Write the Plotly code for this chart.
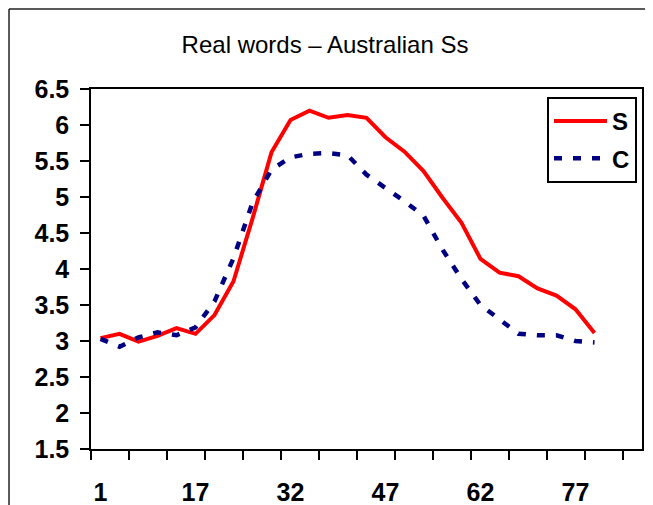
import plotly.graph_objects as go

# Data (27 points on a 29-slot category axis)
point_index = list(range(27))
s_values = [3.04, 3.10, 2.99, 3.07, 3.18, 3.10, 3.36, 3.83, 4.70, 5.62,
            6.07, 6.20, 6.10, 6.14, 6.10, 5.83, 5.63, 5.36, 4.99, 4.64,
            4.14, 3.95, 3.90, 3.73, 3.63, 3.44, 3.11]
c_values = [3.03, 2.92, 3.05, 3.12, 3.08, 3.19, 3.55, 4.15, 4.92, 5.38,
            5.55, 5.60, 5.61, 5.58, 5.31, 5.13, 4.94, 4.74, 4.27, 3.86,
            3.50, 3.30, 3.10, 3.08, 3.08, 3.00, 2.98]
x_label_positions = [0, 5, 10, 15, 20, 25]
x_tick_labels = ["1", "17", "32", "47", "62", "77"]
y_tick_values = [1.5, 2, 2.5, 3, 3.5, 4, 4.5, 5, 5.5, 6, 6.5]
y_tick_labels = ["1.5", "2", "2.5", "3", "3.5", "4", "4.5", "5", "5.5", "6", "6.5"]

FONT = "Liberation Sans, Arial, sans-serif"

fig = go.Figure()
fig.add_trace(go.Scatter(
    x=point_index, y=s_values, name="S", mode="lines",
    line=dict(color="#ff0000", width=4), legendgroup="s"))
fig.add_trace(go.Scatter(
    x=point_index, y=c_values, name="C", mode="lines",
    line=dict(color="#000080", width=4.5, dash="8px,11px"), legendgroup="c"))

border = dict(color="#222222", width=1.5)
fig.update_layout(
    width=645, height=497,
    margin=dict(l=83, r=11, t=81, b=56, autoexpand=False),
    paper_bgcolor="white", plot_bgcolor="white",
    title=dict(text="Real words – Australian Ss", x=0.4915, xref="container",
               xanchor="center", y=0.926, yref="container", yanchor="middle",
               font=dict(family=FONT, size=24, color="black")),
    showlegend=True,
    legend=dict(x=0.8276, y=0.978, xanchor="left", yanchor="top",
                bordercolor="black", borderwidth=2, bgcolor="white",
                font=dict(family=FONT, size=24, color="black", weight="bold"),
                tracegroupgap=3, itemwidth=53),
    shapes=[
        dict(type="line", xref="paper", yref="paper",
             x0=-0.1488, x1=1.05, y0=1.2222, y1=1.2222, line=border, layer="below"),
        dict(type="line", xref="paper", yref="paper",
             x0=-0.1488, x1=-0.1488, y0=-0.3, y1=1.2222, line=border, layer="below"),
    ],
)

fig.update_xaxes(
    range=[-0.5, 28.5], showgrid=False, zeroline=False,
    showline=True, linecolor="black", linewidth=1.5, mirror=True,
    tickmode="array", tickvals=x_label_positions, ticktext=x_tick_labels,
    ticks="", ticklabelstandoff=20, automargin=False,
    tickfont=dict(family=FONT, size=25, color="black", weight="bold"),
    minor=dict(tick0=-0.5, dtick=2, ticks="outside", ticklen=9,
               tickcolor="black", tickwidth=1.5, showgrid=False),
)
fig.update_yaxes(
    range=[1.5, 6.5], showgrid=False, zeroline=False,
    showline=True, linecolor="black", linewidth=1.5, mirror=True,
    tickmode="array", tickvals=y_tick_values, ticktext=y_tick_labels,
    ticks="outside", ticklen=9, tickcolor="black", tickwidth=1.5,
    ticklabelstandoff=6, automargin=False,
    tickfont=dict(family=FONT, size=25, color="black", weight="bold"),
)

fig.write_html("out.html")
